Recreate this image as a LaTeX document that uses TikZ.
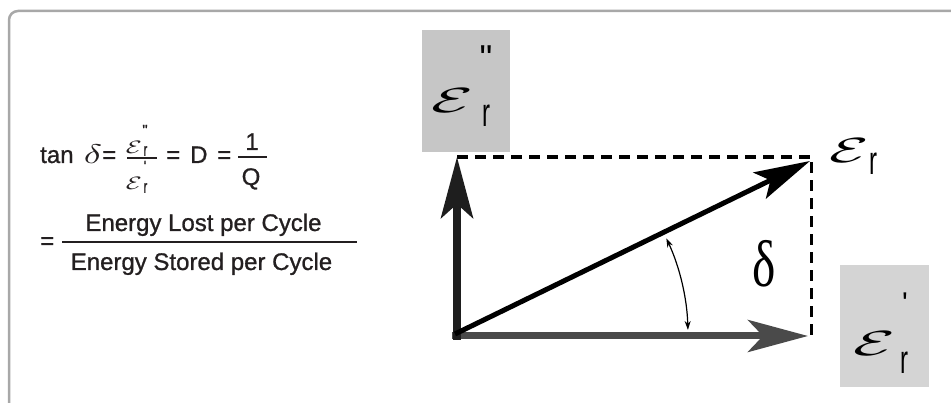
\RequirePackage{fix-cm}
\documentclass[tikz,border=0pt]{standalone}
\usepackage{fontspec}
\newfontfamily\lsans{Liberation Sans}
\newfontfamily\fsans[FakeBold=0.9]{Liberation Sans}
\newfontfamily\lserif{Liberation Serif}
\usetikzlibrary{arrows.meta,calc}
\definecolor{ink}{HTML}{231F20}
\definecolor{framegray}{HTML}{A8A8A8}
\definecolor{boxA}{HTML}{C6C6C6}
\definecolor{boxB}{HTML}{D4D4D4}
\definecolor{hgray}{HTML}{4A4A4A}
\definecolor{vdark}{HTML}{1E1E1E}
\newcommand{\scrE}[2]{\scalebox{#1}[#2]{$\mathcal{E}$}}
\newcommand{\subrbig}{\scalebox{0.6}[1]{\lsans\fontsize{40}{40}\selectfont r}}
\newcommand{\subrsmall}{\scalebox{0.6}[1]{\fsans\fontsize{18}{18}\selectfont r}}
\tikzset{
  ftxt/.style={inner sep=0, text=ink, font=\fsans\fontsize{24}{24}\selectfont},
  glyph/.style={inner sep=0, anchor=center, text=ink},
  bigglyph/.style={inner sep=0, anchor=center, text=black},
  fbar/.style={draw=ink, line width=1.6},
  frame/.style={draw=framegray, line width=2.5, rounded corners=9},
  boxa/.style={fill=boxA, draw=none, minimum width=88, minimum height=122, inner sep=0},
  boxb/.style={fill=boxB, draw=none, minimum width=89, minimum height=122, inner sep=0},
  hvec/.style={draw=hgray, line width=7, -{Stealth[length=60,width=32,inset=15]}},
  vvec/.style={draw=vdark, line width=8, -{Stealth[length=61,width=32,inset=14]}},
  dvec/.style={draw=black, line width=5, -{Stealth[length=56,width=29,inset=12]}},
  dashline/.style={draw=black, line width=3.2, dash pattern=on 11 off 7},
  anglearrow/.style={draw=black, line width=1.2, {Stealth[length=9,width=6]}-{Stealth[length=9,width=6]}},
}
\begin{document}
\begin{tikzpicture}[x=1pt,y=1pt]
\useasboundingbox (0,0) rectangle (951,403);
\clip (0,0) rectangle (951,403);
\fill[white] (0,0) rectangle (951,403);
% frame
\coordinate (fa) at (9,-20);
\coordinate (fb) at (9,392);
\coordinate (fc) at (970,392);
\draw[frame] (fa) -- (fb) -- (fc);

% ---------- formula, line 1 ----------
\node[ftxt, anchor=base west] (tan) at (40,240) {tan};
\node[glyph] (d1) at (93,249) {\scalebox{3.8}[2.7]{$\delta$}};
\node[ftxt, anchor=base west] (eq1) at (102,240) {=};
\node[glyph] (n1e) at (134,256) {\scrE{2.6}{1.8}};
\node[glyph] (n1r) at (145.5,252) {\subrsmall};
\node[glyph] (n1q) at (145,273) {\fsans\fontsize{15}{15}\selectfont "};
\coordinate (b1a) at (127,245);
\coordinate (b1b) at (157,245);
\draw[fbar] (b1a) -- (b1b);
\node[glyph] (d1e) at (134,220) {\scrE{2.6}{1.8}};
\node[glyph] (d1r) at (145.5,215) {\subrsmall};
\node[glyph] (d1q) at (145,237) {\fsans\fontsize{15}{15}\selectfont '};
\node[ftxt, anchor=base west] (eq2) at (166,240) {=};
\node[ftxt, anchor=base west] (D) at (190,240) {D};
\node[ftxt, anchor=base west] (eq3) at (217,240) {=};
\coordinate (b2a) at (238,246);
\coordinate (b2b) at (267,246);
\draw[fbar] (b2a) -- (b2b);
\node[ftxt, anchor=base] (one) at (252,253) {1};
\node[ftxt, anchor=base] (Q) at (251,218) {Q};

% ---------- formula, line 2 ----------
\node[ftxt, anchor=base west] (eq4) at (40,154) {=};
\coordinate (b3a) at (62,161);
\coordinate (b3b) at (357,161);
\draw[fbar] (b3a) -- (b3b);
\node[ftxt, anchor=base] (lost) at (203.5,172) {Energy Lost per Cycle};
\node[ftxt, anchor=base] (stored) at (201.5,133) {Energy Stored per Cycle};

% ---------- gray boxes ----------
\node[boxa] (bx1) at (466,312) {};
\node[boxb] (bx2) at (884.5,77) {};

% ---------- vectors ----------
\coordinate (O) at (457,67);
\coordinate (Hs) at (452,67);
\coordinate (Ht) at (808,67);
\coordinate (Vs) at (457,63);
\coordinate (Vt) at (457,246);
\coordinate (Ds) at (455,69);
\coordinate (Dt) at (810,242);
\coordinate (C) at (811.5,246);
\coordinate (Cb) at (811.5,61);

\draw[dashline] (Vt) -- (C) -- (Cb);
\draw[hvec] (Hs) -- (Ht);
\draw[vvec] (Vs) -- (Vt);
\draw[dvec] (Ds) -- (Dt);
\draw[anglearrow] (O) ++(25:231) arc[start angle=25, end angle=1.5, radius=231];

\node[bigglyph] (delta) at (764,139) {\scalebox{0.75}[1]{\lserif\fontsize{66}{66}\selectfont δ}};

% ---------- epsilon labels ----------
\node[bigglyph] (e1) at (452,302) {\scrE{6.8}{3.5}};
\node[bigglyph] (e1r) at (486,287) {\subrbig};
\node[bigglyph] (e1q) at (486,345) {\lsans\fontsize{36}{36}\selectfont "};

\node[bigglyph] (e2) at (849,252) {\scrE{6.4}{3.5}};
\node[bigglyph] (e2r) at (873,239) {\subrbig};

\node[bigglyph] (e3) at (874,59) {\scrE{6.8}{3.5}};
\node[bigglyph] (e3r) at (904,40) {\subrbig};
\node[bigglyph] (e3q) at (905,100) {\lsans\fontsize{30}{30}\selectfont '};
\end{tikzpicture}
\end{document}
